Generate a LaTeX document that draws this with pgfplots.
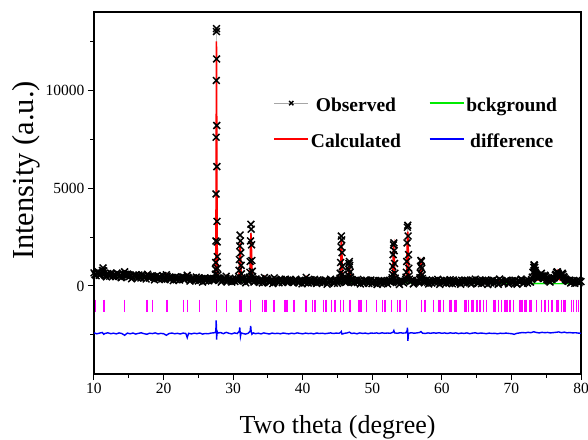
\documentclass[border=0pt]{standalone}
\usepackage{fontspec}
\setmainfont{Liberation Serif}
\usepackage{pgfplots}
\usepackage{pgfplotstable}
\pgfplotsset{compat=1.18}
\definecolor{mag}{RGB}{255,0,255}
\definecolor{lime}{RGB}{0,235,0}
\newcommand{\lstrut}{\rule[-17.5pt]{0pt}{48pt}}
\pgfplotstableread{
x y
10 600
12 550
14 502
16 460
18 420
20 385
22 355
24 327
26 303
28 282
30 263
32 247
34 233
36 221
38 210
40 200
44 185
48 172
52 162
56 153
60 145
65 137
70 130
75 124
80 118
}\bgtable
\begin{document}
\begin{tikzpicture}
\begin{axis}[
  scale only axis, width=487pt, height=362pt,
  xmin=10, xmax=80, ymin=-4500, ymax=14000,
  xtick={10,20,...,80}, minor xtick={15,25,...,75},
  ytick={0,5000,10000}, minor ytick={-2500,2500,7500,12500},
  scaled y ticks=false,
  xtick pos=lower, ytick pos=left, tick align=outside,
  major tick length=6pt, minor tick length=3.5pt,
  tick style={black, line width=1pt},
  axis line style={line width=1.2pt},
  /pgf/number format/assume math mode=true,
  /pgf/number format/1000 sep={},
  ticklabel style={font=\fontsize{15.5}{18}\selectfont},
  xlabel={Two theta (degree)}, ylabel={Intensity (a.u.)},
  xlabel style={font=\fontsize{26}{30}\selectfont, at={(axis description cs:0.5,-0.163)}, anchor=base},
  ylabel style={font=\fontsize{30.5}{34}\selectfont, at={(axis description cs:-0.125,0.562)}, anchor=base},
  legend columns=2,
  legend style={draw=white, fill=white, at={(axis description cs:0.362,0.822)}, anchor=north west,
    font=\bfseries\fontsize{19.5}{22}\selectfont},
  obs/.style={draw=gray!70, line width=0.4pt, mark=x, mark size=4.8pt, mark options={black, solid, line width=1.5pt}},
]
%% observed, points between the main steps (baseline)
\addplot[obs, only marks, forget plot] coordinates {
(10.15,580)(10.45,690)(10.75,540)(11.05,650)(11.65,520)(11.95,630)(12.25,500)(12.55,610)(12.85,580)(13.15,470)(13.45,600)(13.75,560)(14.05,460)(14.65,530)(14.95,570)(15.25,540)(15.55,430)(15.85,520)(16.15,500)(16.45,560)(16.75,410)(17.05,520)(17.35,480)(17.95,400)(18.25,490)(18.55,450)(18.85,470)(19.15,380)(19.45,470)(19.75,350)(20.05,440)(20.65,420)(20.95,330)(21.25,420)(21.55,400)(21.85,320)(22.15,430)(22.45,390)(23.05,420)(23.65,380)(23.95,320)(24.25,400)(24.55,280)(24.85,380)(25.45,340)(25.75,360)(26.05,260)(26.35,380)(26.65,330)(26.95,350)(27.2,300)
(28.15,330)(28.45,270)(28.75,360)(29.35,310)(29.65,260)(29.95,360)(30.25,230)(30.5,320)(31.4,300)(31.65,250)(31.95,330)(32.2,240)
(32.95,330)(33.15,250)(33.45,300)(33.75,180)(34.05,300)(34.35,250)(34.65,280)(34.95,310)(35.25,180)(35.55,300)(35.85,250)(36.15,320)(36.45,220)(36.75,280)(37.05,170)(37.35,290)(37.65,240)(37.95,200)(38.25,290)(38.55,190)(38.85,260)(39.15,280)(39.45,150)(39.75,270)(40.05,230)(40.35,180)(40.65,290)(40.95,240)(41.25,160)(41.55,270)(41.85,220)(42.15,300)(42.45,180)(42.75,240)(43.05,200)(43.35,280)(43.65,160)(43.95,250)(44.25,280)(44.55,140)(44.85,250)(45.15,220)
(46.0,260)(46.3,200)(47.0,250)(47.25,200)(47.55,290)(47.85,180)(48.1,260)(48.45,240)(48.75,140)(49.05,250)(49.35,200)(49.65,260)(49.95,120)(50.25,280)(50.55,200)(50.85,260)(51.15,140)(51.45,230)(51.75,270)(52.05,210)(52.35,250)(52.65,180)
(53.45,250)(53.75,180)(54.05,270)(54.35,200)(54.65,240)(55.45,230)(55.75,280)(56.05,150)(56.35,250)(56.65,200)
(57.35,230)(57.65,250)(57.95,190)(58.25,290)(58.55,150)(58.85,250)(59.15,270)(59.55,210)(59.85,280)(60.15,160)(60.45,240)(60.75,270)(61.05,150)(61.35,250)(61.65,300)(61.95,130)(62.25,240)(62.55,200)(62.85,290)(63.15,160)(63.45,250)(63.75,270)(64.05,190)(64.35,300)(64.65,230)(64.95,260)(65.25,140)(65.55,250)(65.85,290)(66.15,170)(66.45,240)(66.75,270)(67.05,150)(67.35,290)(67.65,210)(67.95,260)(68.5,270)(68.85,140)(69.15,250)(69.45,280)(69.75,170)(70.05,260)(70.35,220)(70.65,150)(70.95,270)(71.25,240)(71.55,290)(71.85,180)(72.15,250)(72.45,280)(72.75,200)
(73.45,700)(73.65,450)(73.9,400)(74.1,520)(74.5,470)(74.7,450)(75.0,420)(75.25,290)(75.55,200)(75.85,350)(76.15,420)(76.4,600)(76.8,580)(77.0,450)(77.2,580)(77.5,480)(77.75,350)(78.05,260)(78.35,300)(78.65,180)(78.95,280)(79.25,220)(79.55,190)(79.85,250)
};
%% observed
\addplot[obs, legend image code/.code={
    \draw[gray!70, line width=0.5pt] (0pt,-6.5pt) -- (34pt,-6.5pt);
    \draw[black, line width=1.1pt] plot[mark=x, mark size=3pt] coordinates {(17pt,-6.5pt)};}] coordinates {
(10.0,665)(10.3,522)(10.6,720)(10.9,572)(11.2,790)(11.3,920)(11.4,766)(11.5,642)(11.8,465)(12.1,588)(12.4,655)(12.7,492)(13.0,550)(13.3,658)(13.6,486)(13.9,420)(14.2,588)(14.4,720)(14.5,600)(14.8,609)(15.1,483)(15.4,367)(15.7,541)(16.0,565)(16.3,404)(16.6,483)(16.9,572)(17.2,421)(17.5,355)(17.7,596)(17.8,509)(18.1,463)(18.4,520)(18.7,312)(19.0,512)(19.3,367)(19.6,422)(19.9,532)(20.2,322)(20.4,569)(20.5,498)(20.8,373)(21.1,443)(21.4,274)(21.7,459)(22.0,375)(22.3,305)(22.6,471)(22.8,463)(22.9,321)(23.2,387)(23.4,545)(23.5,443)(23.8,250)(24.1,396)(24.4,322)(24.7,454)(25.0,260)(25.1,415)(25.3,366)(25.6,198)(25.9,399)(26.2,331)(26.5,262)(26.8,409)(27.1,280)(27.3,368)
(27.40,380)(27.45,600)(27.48,850)(27.50,1200)(27.52,2300)(27.54,4700)(27.56,7600)(27.58,10500)(27.60,13000)(27.61,13150)(27.62,11600)(27.64,8200)(27.66,6100)(27.68,3300)(27.70,2250)(27.72,1500)(27.75,900)(27.80,560)(27.85,420)
(27.9,345)(28.0,387)(28.3,199)(28.6,321)(28.9,380)(29.0,493)(29.2,245)(29.5,397)(29.8,200)(30.1,297)(30.4,350)(30.6,253)
(30.75,330)(30.80,480)(30.85,800)(30.90,1350)(30.95,2050)(31.00,2600)(31.05,2300)(31.10,1700)(31.15,1050)(31.20,620)(31.25,420)(31.30,340)
(31.5,368)(31.8,160)(32.1,297)(32.3,380)
(32.35,450)(32.40,700)(32.45,1250)(32.50,2300)(32.55,3150)(32.60,2900)(32.65,2100)(32.70,1300)(32.75,750)(32.80,480)(32.85,360)
(33.0,200)(33.3,358)(33.6,241)(33.9,319)(34.2,157)(34.5,430)(34.8,368)(35.1,206)(35.4,255)(35.7,123)(35.9,411)(36.3,284)(36.6,162)(36.9,341)(37.2,214)(37.5,347)(37.8,300)(38.1,309)(38.4,233)(38.7,171)(39.0,340)(39.3,193)(39.6,292)(39.9,110)(40.2,254)(40.5,438)(40.8,152)(41.1,311)(41.4,204)(41.7,338)(42.0,127)(42.3,231)(42.6,270)(42.9,164)(43.2,308)(43.5,87)(43.8,246)(44.0,345)(44.4,179)(44.7,288)(45.0,132)(45.3,300)
(45.35,400)(45.40,650)(45.45,1200)(45.50,2000)(45.55,2550)(45.60,2350)(45.65,1700)(45.70,1000)(45.75,600)(45.80,400)(45.90,300)
(46.1,180)(46.4,290)
(46.50,380)(46.55,550)(46.60,850)(46.65,1150)(46.70,1250)(46.75,1050)(46.80,700)(46.85,450)(46.90,320)
(47.1,307)(47.4,161)(47.7,245)(47.9,334)(48.3,102)(48.6,216)(48.9,275)(49.2,299)(49.5,128)(49.8,307)(50.1,171)(50.4,250)(50.7,79)(51.0,224)(51.3,278)(51.6,132)(51.9,192)(52.2,101)(52.5,290)(52.8,320)
(52.85,420)(52.90,600)(52.95,1000)(53.00,1600)(53.05,2100)(53.10,2200)(53.15,1800)(53.20,1150)(53.25,650)(53.30,400)(53.35,280)
(53.6,232)(53.9,76)(54.2,251)(54.5,150)(54.8,330)
(54.85,450)(54.90,700)(54.95,1250)(55.00,2200)(55.05,3000)(55.10,3100)(55.15,2550)(55.20,1600)(55.25,900)(55.30,520)(55.35,350)
(55.6,263)(55.9,103)(56.2,207)(56.5,271)(56.8,330)
(56.85,420)(56.90,650)(56.95,1000)(57.00,1300)(57.05,1250)(57.10,900)(57.15,560)(57.20,380)(57.25,280)
(57.5,159)(57.8,309)(58.1,103)(58.4,223)(58.7,267)(59.0,177)(59.4,336)(59.7,81)(60.0,240)(60.3,290)(60.6,139)(60.9,209)(61.2,318)(61.5,113)(61.8,222)(62.1,182)(62.4,276)(62.7,86)(63.0,250)(63.3,300)(63.6,149)(63.9,209)(64.2,98)(64.5,263)(64.8,347)(65.1,157)(65.4,286)(65.7,121)(66.0,226)(66.3,305)(66.6,75)(66.9,194)(67.2,264)(67.5,138)(67.8,238)(68.1,82)(68.3,352)(68.7,212)(69.0,161)(69.3,286)(69.6,105)(69.9,245)(70.2,175)(70.5,294)(70.8,89)(71.1,213)(71.4,348)(71.7,117)(72.0,267)(72.3,147)(72.6,226)(72.9,330)
(73.00,450)(73.10,700)(73.20,950)(73.25,1080)(73.30,1050)(73.35,950)(73.40,800)(73.50,600)(73.60,520)(73.70,420)(73.80,380)(74.00,450)(74.20,600)(74.30,650)(74.40,520)(74.60,400)(74.80,550)(74.90,500)(75.10,330)(75.40,250)(75.70,320)(76.00,400)(76.30,550)(76.50,700)(76.60,720)(76.70,650)(76.90,500)(77.10,550)(77.30,650)(77.40,600)(77.60,420)(77.90,300)
(78.2,240)(78.5,150)(78.8,245)(79.1,134)(79.4,279)(79.7,153)(80.0,218)
};
\addlegendentry{\lstrut Observed\rule{26pt}{0pt}}
%% background (legend entry; drawn again on top below)
\addplot[lime, line width=1.1pt, legend image code/.code={\draw[lime, line width=1.3pt] (0pt,-6.5pt) -- (34pt,-6.5pt);}] table[x=x, y=y] {\bgtable};
\addlegendentry{\lstrut bckground}
%% calculated
\addplot[red, line width=1.5pt, legend image code/.code={\draw[red, line width=1.5pt] (0pt,-6.5pt) -- (34pt,-6.5pt);}] coordinates {
(10,620)(11.1,600)(11.3,830)(11.5,585)(12,570)(13,545)(14.3,520)(14.4,670)(14.5,515)(15,500)(16,480)(17,460)(17.6,446)(17.7,560)(17.8,444)(18.3,435)(18.4,480)(18.5,432)(19,422)(20,405)(20.3,401)(20.4,540)(20.5,398)(21,390)(22,375)(22.7,365)(22.8,440)(22.9,361)(23.3,359)(23.4,500)(23.5,353)(24,347)(25,336)(25.1,410)(25.2,333)(26,323)(27,312)
(27.4,330)(27.45,500)(27.50,1300)(27.54,4200)(27.58,10000)(27.60,12500)(27.62,11800)(27.66,6500)(27.70,2500)(27.74,1100)(27.80,520)(27.9,360)
(28.0,302)(28.9,294)(29.0,440)(29.1,291)(30,283)(30.7,280)
(30.8,400)(30.85,620)(30.9,1100)(30.95,1800)(31.0,2180)(31.05,1950)(31.1,1300)(31.15,750)(31.2,450)(31.3,300)(31.4,276)(32,268)(32.3,300)
(32.35,380)(32.4,560)(32.45,1050)(32.5,2050)(32.55,2700)(32.6,2450)(32.65,1700)(32.7,950)(32.75,520)(32.8,350)(32.9,280)
(33,260)(34,253)(34.4,251)(34.5,400)(34.6,249)(35,246)(35.9,242)(36,340)(36.1,240)(37,235)(37.4,233)(37.5,300)(37.6,232)(38,230)(39,225)(40,220)(40.45,218)(40.55,380)(40.65,217)(42,212)(43.9,206)(44.0,280)(44.1,205)(45,202)(45.3,250)
(45.35,330)(45.4,520)(45.45,1000)(45.5,1850)(45.55,2350)(45.6,2150)(45.65,1500)(45.7,800)(45.75,450)(45.8,300)(45.9,230)(46.2,200)
(46.45,240)(46.5,300)(46.55,420)(46.6,700)(46.65,950)(46.7,1050)(46.75,880)(46.8,580)(46.85,350)(46.95,230)
(47.2,197)(47.8,195)(47.9,270)(48.0,194)(49.1,190)(49.2,245)(49.3,189)(50,186)(52,181)(52.8,250)
(52.85,340)(52.9,480)(52.95,850)(53.0,1450)(53.05,1950)(53.1,2050)(53.15,1600)(53.2,950)(53.25,500)(53.3,300)(53.4,210)
(53.7,178)(54,176)(54.7,180)(54.8,260)
(54.85,360)(54.9,550)(54.95,1050)(55.0,1950)(55.05,2600)(55.1,2770)(55.15,2250)(55.2,1350)(55.25,700)(55.3,380)(55.4,220)
(55.7,173)(56.5,173)(56.8,260)
(56.85,330)(56.9,520)(56.95,850)(57.0,1150)(57.05,1050)(57.1,720)(57.15,420)(57.2,270)(57.3,200)
(57.5,199)(59.3,196)(59.4,270)(59.5,196)(61,194)(63,190)(64.7,188)(64.8,280)(64.9,187)(66,186)(68.2,182)(68.3,300)(68.4,182)(70,180)(71.3,178)(71.4,270)(71.5,178)(72.8,200)
(73.0,350)(73.15,650)(73.25,900)(73.35,760)(73.45,560)(73.6,400)(73.8,300)(74.1,330)(74.3,450)(74.45,340)(74.7,280)(74.85,400)(75.0,300)(75.3,210)(76,260)(76.4,380)(76.6,700)(76.75,420)(77.0,300)(77.3,470)(77.45,330)(77.8,220)(78.5,185)(80,180)
};
\addlegendentry{\lstrut Calculated\rule{26pt}{0pt}}
%% difference
\addplot[blue, line width=1.4pt, legend image code/.code={\draw[blue, line width=1.5pt] (0pt,-6.5pt) -- (34pt,-6.5pt);}] coordinates {
(10.0,-2400)(10.4,-2445)(10.8,-2410)(11.2,-2380)(11.4,-2470)(11.6,-2425)(12.0,-2395)(12.4,-2440)(12.8,-2415)(13.2,-2450)(13.6,-2400)(14.0,-2430)(14.4,-2520)(14.8,-2410)(15.2,-2445)(15.6,-2405)(16.0,-2460)(16.4,-2420)(16.8,-2395)(17.2,-2440)(17.6,-2470)(18.0,-2415)(18.4,-2435)(18.8,-2400)(19.2,-2450)(19.6,-2425)(20.0,-2440)(20.4,-2520)(20.8,-2430)(21.2,-2405)(21.6,-2445)(22.0,-2420)(22.4,-2455)(22.8,-2410)(23.2,-2430)(23.4,-2640)(23.6,-2420)(24.0,-2450)(24.4,-2415)(24.8,-2440)(25.2,-2405)(25.6,-2460)(26.0,-2430)(26.4,-2445)(26.8,-2410)(27.2,-2395)
(27.45,-2380)(27.52,-2250)(27.56,-1760)(27.60,-2150)(27.63,-2740)(27.68,-2300)(27.8,-2410)(28.2,-2380)(28.6,-2440)(29.0,-2370)(29.4,-2420)(29.8,-2450)(30.2,-2400)(30.6,-2430)(30.9,-2300)(30.95,-2120)(31.0,-2350)(31.05,-2580)(31.15,-2400)(31.4,-2430)(31.8,-2460)(32.2,-2410)(32.45,-2300)(32.52,-2040)(32.6,-2350)(32.7,-2470)(32.9,-2400)
(33.2,-2440)(33.6,-2415)(34.0,-2450)(34.4,-2400)(34.8,-2430)(35.2,-2455)(35.6,-2410)(36.0,-2435)(36.4,-2420)(36.8,-2445)(37.2,-2405)(37.6,-2430)(38.0,-2450)(38.4,-2415)(38.8,-2440)(39.2,-2400)(39.6,-2425)(40.0,-2445)(40.4,-2410)(40.8,-2435)(41.2,-2420)(41.6,-2450)(42.0,-2405)(42.4,-2430)(42.8,-2415)(43.2,-2440)(43.6,-2420)(44.0,-2400)(44.4,-2430)(44.8,-2410)(45.2,-2420)(45.45,-2380)(45.55,-2330)(45.65,-2460)(46.0,-2420)(46.4,-2400)(46.7,-2360)(47.0,-2430)(47.4,-2410)(47.8,-2445)(48.2,-2400)(48.6,-2425)(49.0,-2410)(49.4,-2440)(49.8,-2405)(50.2,-2420)(50.6,-2400)(51.0,-2430)(51.4,-2395)(51.8,-2420)(52.2,-2405)(52.6,-2420)(53.0,-2360)(53.1,-2280)(53.2,-2400)(53.6,-2420)(54.0,-2390)(54.4,-2410)(54.8,-2400)(55.0,-2300)(55.06,-2130)(55.12,-2800)(55.2,-2420)(55.6,-2390)(56.0,-2415)(56.4,-2400)(56.8,-2380)(57.0,-2330)(57.2,-2410)(57.6,-2430)
(58.0,-2400)(58.4,-2420)(58.8,-2395)(59.2,-2415)(59.6,-2390)(60.0,-2420)(60.4,-2400)(60.8,-2430)(61.2,-2395)(61.6,-2420)(62.0,-2400)(62.4,-2435)(62.8,-2410)(63.2,-2425)(63.6,-2400)(64.0,-2440)(64.4,-2410)(64.8,-2395)(65.2,-2430)(65.6,-2405)(66.0,-2420)(66.4,-2440)(66.8,-2410)(67.2,-2430)(67.6,-2420)(68.0,-2445)(68.4,-2415)(68.8,-2430)(69.2,-2410)(69.6,-2425)(70.0,-2440)(70.4,-2470)(70.8,-2420)(71.2,-2400)(71.6,-2380)(72.0,-2395)(72.4,-2370)(72.8,-2390)(73.2,-2340)(73.6,-2380)(74.0,-2400)(74.4,-2370)(74.8,-2390)(75.2,-2375)(75.6,-2400)(76.0,-2385)(76.4,-2370)(76.8,-2350)(77.2,-2390)(77.6,-2360)(78.0,-2395)(78.4,-2380)(78.8,-2400)(79.2,-2390)(79.6,-2410)(80.0,-2420)
};
\addlegendentry{\lstrut difference}
%% Bragg positions
\addplot[only marks, mark=|, mark size=6pt, mark options={mag, line width=1.6pt}, forget plot] coordinates {
(10.24,-1010)(11.44,-1010)(14.36,-1010)(17.62,-1010)(18.43,-1010)(20.45,-1010)(22.84,-1010)(23.42,-1010)(25.14,-1010)(27.63,-1010)(29.07,-1010)(30.89,-1010)(31.17,-1010)(32.52,-1010)(34.24,-1010)(34.58,-1010)(34.80,-1010)(35.87,-1010)(37.45,-1010)(37.70,-1010)(38.75,-1010)(40.47,-1010)(41.43,-1010)(41.76,-1010)(42.96,-1010)(43.34,-1010)(44.16,-1010)(44.64,-1010)(45.45,-1010)(45.84,-1010)(46.79,-1010)(47.99,-1010)(48.23,-1010)(48.47,-1010)(49.19,-1010)(50.63,-1010)(51.49,-1010)(51.82,-1010)(52.78,-1010)(53.60,-1010)(53.98,-1010)(54.94,-1010)(57.09,-1010)(57.57,-1010)(58.77,-1010)(59.50,-1010)(59.74,-1010)(60.22,-1010)(61.17,-1010)(61.41,-1010)(61.89,-1010)(62.13,-1010)(63.33,-1010)(63.57,-1010)(63.81,-1010)(64.29,-1010)(64.53,-1010)(65.01,-1010)(65.49,-1010)(65.97,-1010)(66.44,-1010)(67.40,-1010)(67.64,-1010)(68.12,-1010)(68.60,-1010)(69.08,-1010)(69.32,-1010)(69.80,-1010)(70.28,-1010)(71.24,-1010)(71.48,-1010)(71.95,-1010)(72.19,-1010)(72.67,-1010)(72.91,-1010)(73.63,-1010)(74.35,-1010)(74.83,-1010)(75.31,-1010)(75.79,-1010)(76.51,-1010)(76.75,-1010)(77.22,-1010)(77.46,-1010)(77.70,-1010)(78.66,-1010)(78.90,-1010)(79.38,-1010)(79.62,-1010)
};
%% background again, on top of the other curves
\addplot[lime, line width=1.1pt, forget plot] table[x=x, y=y] {\bgtable};
\end{axis}
\pgfresetboundingbox
\path ([shift={(-94pt,-65pt)}]current axis.south west) rectangle ([shift={(7pt,12pt)}]current axis.north east);
\end{tikzpicture}
\end{document}
